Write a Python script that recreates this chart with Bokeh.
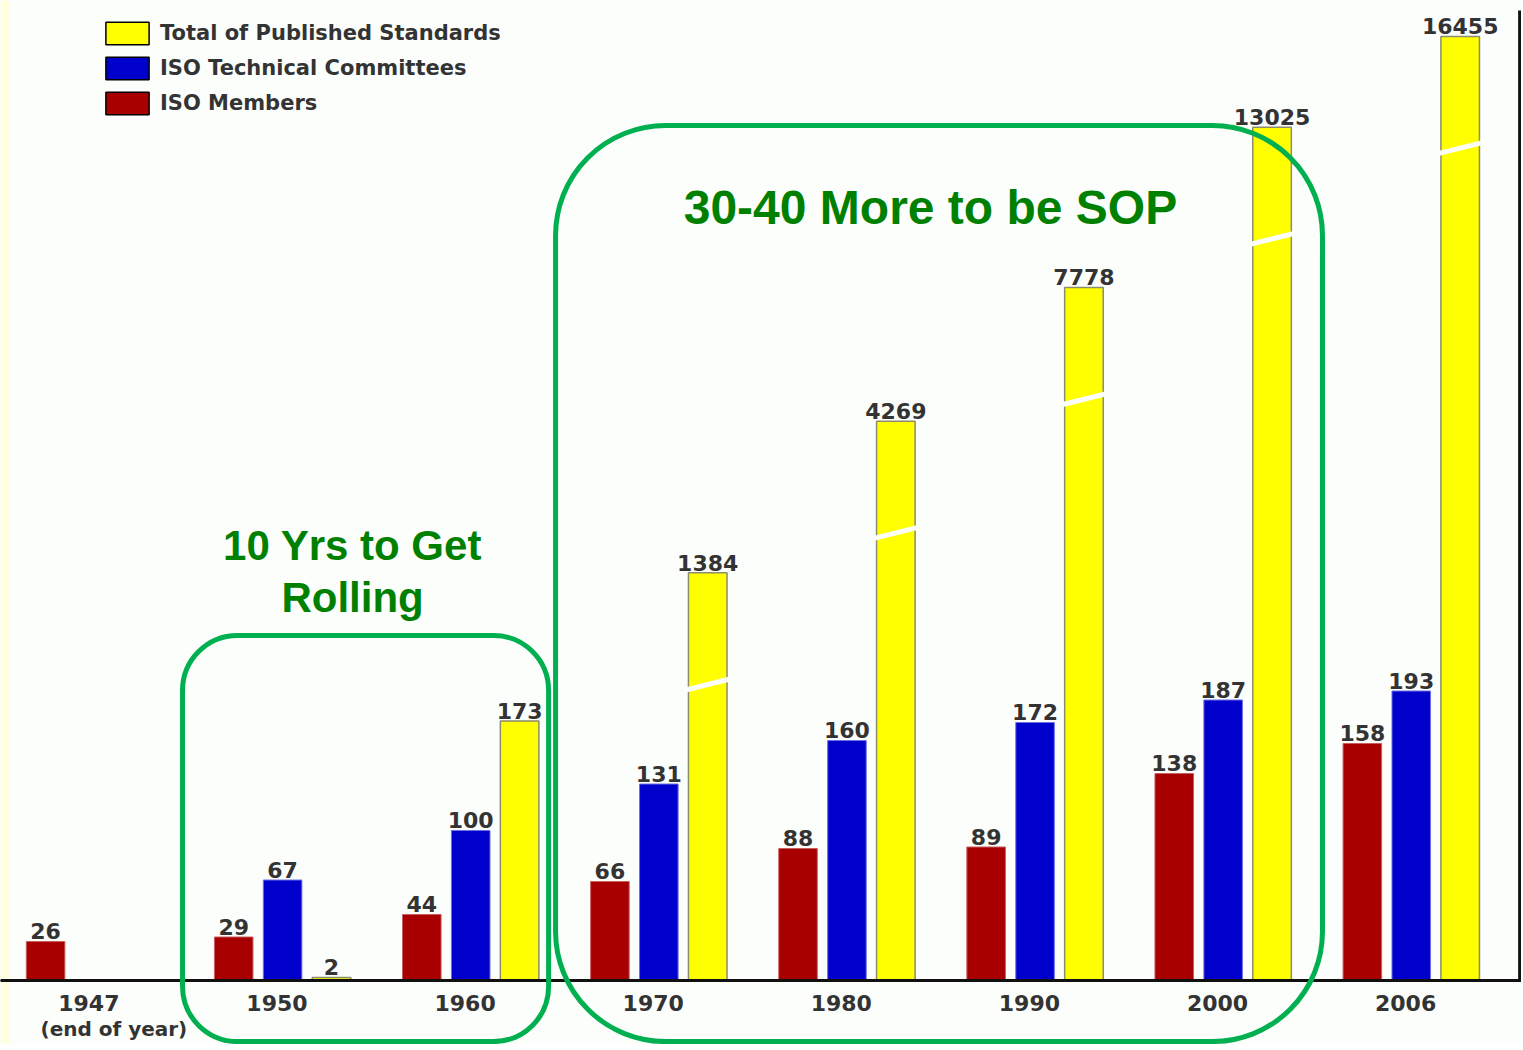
from bokeh.plotting import figure
from bokeh.models import (ColumnDataSource, Range1d, Span, BoxAnnotation, Label,
                          Legend, LegendItem, CustomJSTransform)
from bokeh.transform import transform, dodge
from bokeh.core.properties import value
from bokeh.embed import file_html
from bokeh.resources import INLINE

# ---------------- data ----------------
years = ["1947", "1950", "1960", "1970", "1980", "1990", "2000", "2006"]
members = [26, 29, 44, 66, 88, 89, 138, 158]
committees = [None, 67, 100, 131, 160, 172, 187, 193]
standards = [None, 2, 173, 1384, 4269, 7778, 13025, 16455]
series_names = ["Total of Published Standards", "ISO Technical Committees", "ISO Members"]

# ---------------- style ----------------
BG = "#FCFEFB"
STRIP = "#FFFFDD"
RED = "#A80000"
BLUE = "#0000CC"
YELLOW = "#FFFF00"
TXT = "#333333"
GREEN_LINE = "#00B050"
GREEN_TXT = "#008000"
FONT = value("DejaVu Sans")

# broken (compressed) scale used for the standards bars: linear up to the break,
# power-compressed above it (the bars carry a break mark there)
BREAK = 200.0
POWER = 0.6
COMPRESS = 1.3646


def broken_scale(offset=0.0):
    code_v = f"""
    const out = new Float64Array(xs.length);
    for (let i = 0; i < xs.length; i++) {{
        const v = xs[i];
        const d = v <= {BREAK} ? v : {BREAK} + {COMPRESS} * (Math.pow(v, {POWER}) - Math.pow({BREAK}, {POWER}));
        out[i] = d + ({offset});
    }}
    return out;
    """
    code_s = f"""
    const d = x <= {BREAK} ? x : {BREAK} + {COMPRESS} * (Math.pow(x, {POWER}) - Math.pow({BREAK}, {POWER}));
    return d + ({offset});
    """
    return CustomJSTransform(v_func=code_v, func=code_s)


def make_source(vals):
    xs = [i for i, v in enumerate(vals) if v is not None]
    vs = [v for v in vals if v is not None]
    return ColumnDataSource(dict(x=xs, v=vs, label=[str(v) for v in vs]))


W, H = 1521, 1044
p = figure(width=W, height=H, output_backend="svg", toolbar_location=None,
           x_range=Range1d(-0.4997, 7.586), y_range=Range1d(-42.67, 653.33),
           min_border=0, min_border_left=0, min_border_right=0,
           min_border_top=0, min_border_bottom=0)
p.axis.visible = False
p.grid.visible = False
p.outline_line_color = None
p.background_fill_color = BG
p.border_fill_color = BG

# pale strip at the left edge
p.add_layout(BoxAnnotation(left=-0.4997, right=-0.452, fill_color=STRIP, fill_alpha=1,
                           line_color=None, level="underlay"))

OFF = 0.26
BW = 0.205

mem_src = make_source(members)
tc_src = make_source(committees)
std_src = make_source(standards)
brk_src = make_source([v if (v is not None and v > BREAK) else None for v in standards])

p.vbar(x=dodge("x", -OFF), top="v", bottom=0, width=BW, source=mem_src,
       fill_color=RED, line_color="#C86060", line_width=1)
p.vbar(x=dodge("x", 0), top="v", bottom=0, width=BW, source=tc_src,
       fill_color=BLUE, line_color="#7070E8", line_width=1)
p.vbar(x=dodge("x", OFF), top=transform("v", broken_scale(0)), bottom=0, width=BW,
       source=std_src, fill_color=YELLOW, line_color="#8C8C6E", line_width=1.5)

# break marks on the compressed bars
p.segment(x0=dodge("x", OFF - BW / 2 - 0.01), x1=dodge("x", OFF + BW / 2 + 0.01),
          y0=transform("v", broken_scale(-78)), y1=transform("v", broken_scale(-71)),
          source=brk_src, line_color=BG, line_width=5)

# value labels
lab_kw = dict(text="label", text_align="center", text_baseline="alphabetic", y_offset=-10,
              text_font=FONT, text_font_style="bold", text_font_size="22px", text_color=TXT)
p.text(x=dodge("x", -OFF), y="v", source=mem_src, **lab_kw)
p.text(x=dodge("x", 0), y="v", source=tc_src, **lab_kw)
p.text(x=dodge("x", OFF), y=transform("v", broken_scale(0)), source=std_src, **lab_kw)

# baseline and right frame line
p.add_layout(Span(location=0, dimension="width", line_color="#111111", line_width=3))
p.segment(x0=[7.576], x1=[7.576], y0=[0], y1=[646.7], line_color="#111111", line_width=3)

# category labels
yr_src = ColumnDataSource(dict(x=list(range(len(years))), label=years))
p.text(x=dodge("x", -0.03), y=-15.3, text="label", source=yr_src, text_align="center",
       text_baseline="middle", text_font=FONT, text_font_style="bold",
       text_font_size="22px", text_color=TXT)
p.add_layout(Label(x=-0.287, y=-32.3, text="(end of year)", text_align="left",
                   text_baseline="middle", text_font="DejaVu Sans", text_font_style="bold",
                   text_font_size="20px", text_color=TXT))

# legend (swatches with black outline); dummy renderers sit outside the visible range
dummy = lambda: ColumnDataSource(dict(x=[-5.0], top=[0.0]))
r_std = p.vbar(x="x", top="top", width=0.2, source=dummy(), fill_color=YELLOW, line_color="black", line_width=1.5)
r_tc = p.vbar(x="x", top="top", width=0.2, source=dummy(), fill_color=BLUE, line_color="black", line_width=1.5)
r_mem = p.vbar(x="x", top="top", width=0.2, source=dummy(), fill_color=RED, line_color="black", line_width=1.5)
legend = Legend(items=[LegendItem(label=series_names[0], renderers=[r_std]),
                       LegendItem(label=series_names[1], renderers=[r_tc]),
                       LegendItem(label=series_names[2], renderers=[r_mem])],
                location=(100, 927), orientation="vertical",
                glyph_width=54, glyph_height=28, label_height=28, label_standoff=6,
                spacing=7, padding=0, margin=0,
                border_line_color=None, background_fill_alpha=0,
                label_text_font="DejaVu Sans", label_text_font_style="bold",
                label_text_font_size="21px", label_text_color=TXT)
p.add_layout(legend, "center")

# green call-out boxes and notes
p.add_layout(BoxAnnotation(left=0.468, right=2.414, top=230, bottom=-40.7,
                           fill_color=None, fill_alpha=0, line_color=GREEN_LINE,
                           line_alpha=1, line_width=5, border_radius=55))
p.add_layout(BoxAnnotation(left=2.451, right=6.528, top=570, bottom=-40.7,
                           fill_color=None, fill_alpha=0, line_color=GREEN_LINE,
                           line_alpha=1, line_width=5, border_radius=110))

note_kw = dict(text_align="center", text_baseline="middle", text_font="Liberation Sans",
               text_font_style="bold", text_color=GREEN_TXT)
p.add_layout(Label(x=4.444, y=515.3, text="30-40 More to be SOP", text_font_size="48px", **note_kw))
p.add_layout(Label(x=1.372, y=290.0, text="10 Yrs to Get", text_font_size="42px", **note_kw))
p.add_layout(Label(x=1.372, y=255.3, text="Rolling", text_font_size="42px", **note_kw))

open("out.html", "w").write(file_html(p, INLINE))
